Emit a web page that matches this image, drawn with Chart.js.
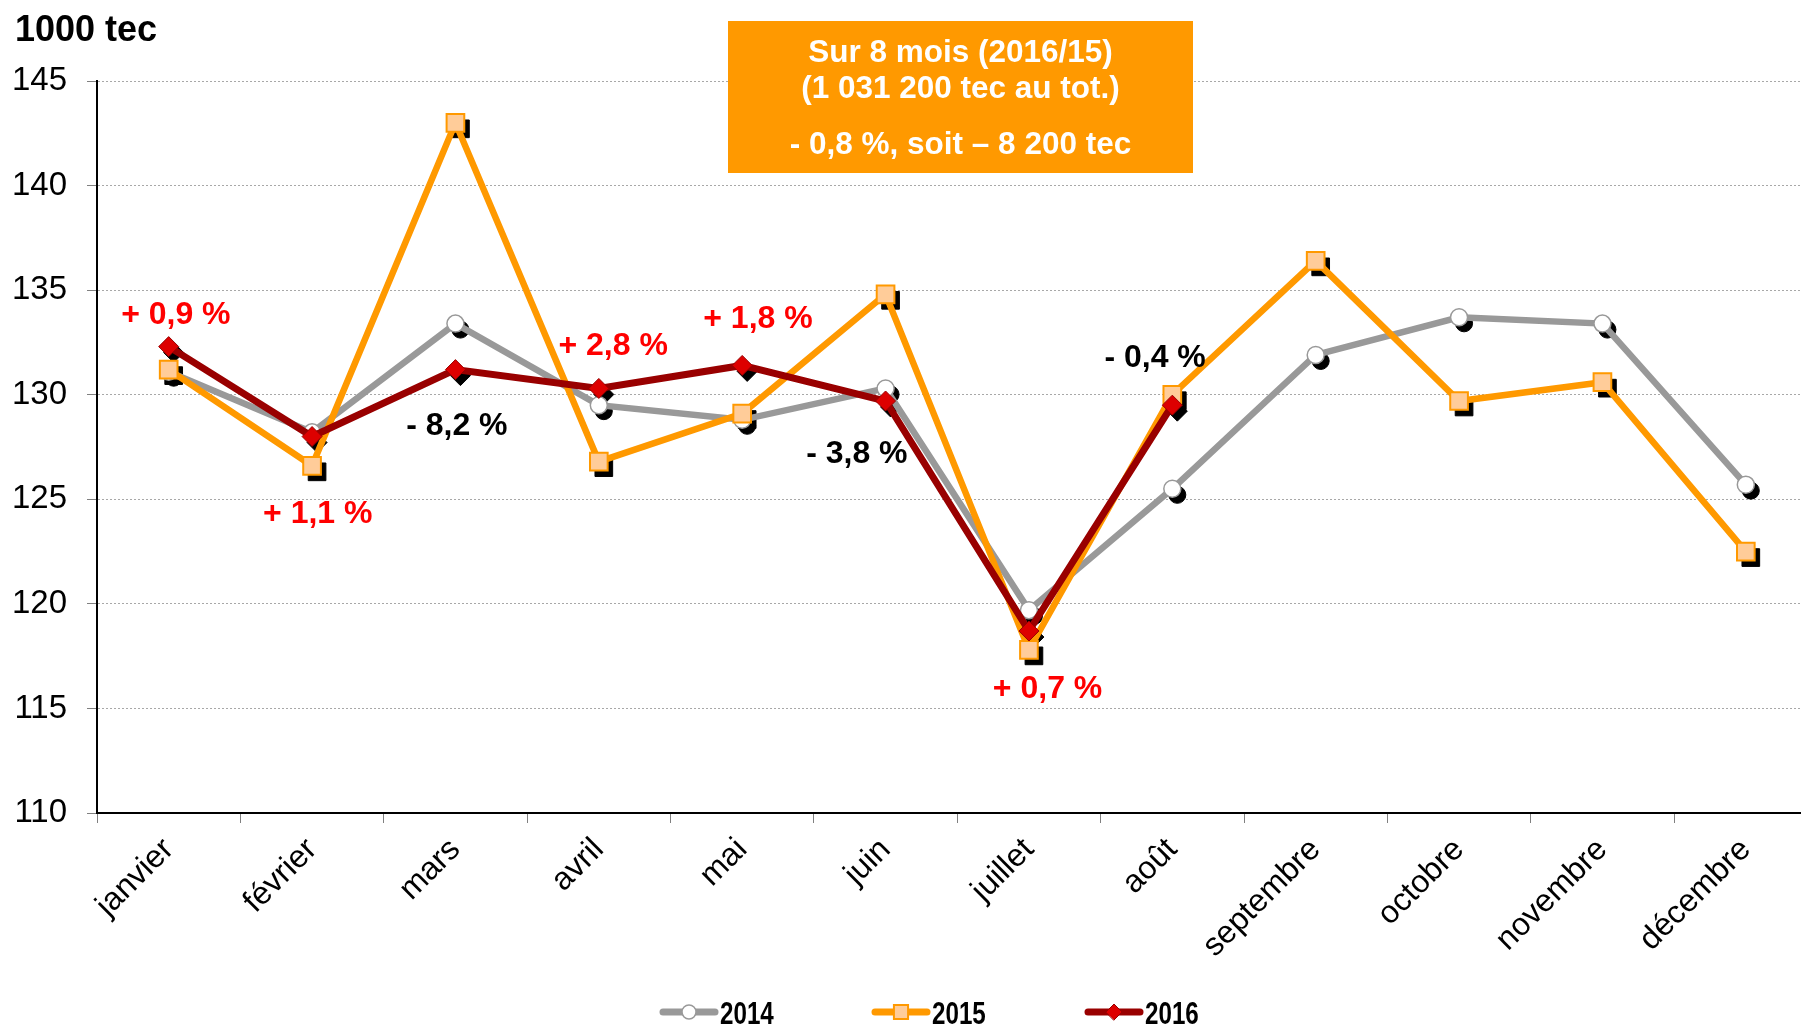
<!DOCTYPE html>
<html>
<head>
<meta charset="utf-8">
<script src="https://cdn.jsdelivr.net/npm/chart.js@4/dist/chart.umd.min.js"></script>
<style>
  html, body { margin: 0; padding: 0; background: #fff; overflow: hidden; }
</style>
</head>
<body>
<canvas id="myChart" width="1832" height="1025"></canvas>
<script>
const months = ["janvier", "février", "mars", "avril", "mai", "juin", "juillet", "août", "septembre", "octobre", "novembre", "décembre"];
const values2014 = [131.1, 128.2, 133.4, 129.5, 128.8, 130.3, 119.7, 125.5, 131.9, 133.7, 133.4, 125.7];
const values2015 = [131.2, 126.6, 143.0, 126.8, 129.1, 134.8, 117.8, 130.0, 136.4, 129.7, 130.6, 122.5];
const values2016 = [132.3, 128.0, 131.2, 130.3, 131.4, 129.7, 118.7, 129.5];
const yTicks = [110, 115, 120, 125, 130, 135, 140, 145];

// percent change notes (2016 vs 2015), placed in data units
const noteText = ["+ 0,9 %", "+ 1,1 %", "- 8,2 %", "+ 2,8 %", "+ 1,8 %", "- 3,8 %", "+ 0,7 %", "- 0,4 %"];
const noteMonth = [0.05, 1.04, 2.01, 3.1, 4.11, 4.8, 6.13, 6.88];
const noteValue = [133.8, 124.3, 128.5, 132.3, 133.6, 127.15, 115.9, 131.75];
const noteColor = ["#ff0000", "#ff0000", "#000000", "#ff0000", "#ff0000", "#000000", "#ff0000", "#000000"];

const boxLines = ["Sur 8 mois (2016/15)", "(1 031 200 tec au tot.)", "- 0,8 %, soit – 8 200 tec"];
const unitTitle = "1000 tec";

const FONT = "'Liberation Sans', Arial, sans-serif";

// black drop shadow under every marker
const markerShadows = {
  id: "markerShadows",
  beforeDatasetsDraw(chart) {
    const ctx = chart.ctx;
    ctx.save();
    ctx.fillStyle = "#000";
    ctx.strokeStyle = "#000";
    chart.getSortedVisibleDatasetMetas().forEach(meta => {
      meta.data.forEach(pt => {
        const o = pt.options;
        Chart.helpers.drawPoint(ctx, {
          pointStyle: o.pointStyle, radius: o.radius, rotation: o.rotation, borderWidth: o.borderWidth
        }, pt.x + 5, pt.y + 6);
      });
    });
    ctx.restore();
  }
};

const extras = {
  id: "extras",
  afterDraw(chart) {
    const ctx = chart.ctx;
    const xs = chart.scales.x, ys = chart.scales.y;
    ctx.save();

    // unit title
    ctx.fillStyle = "#000";
    ctx.font = "bold 36px " + FONT;
    ctx.textAlign = "left";
    ctx.textBaseline = "middle";
    ctx.fillText(unitTitle, 15, 31);

    // summary box
    ctx.fillStyle = "#ff9900";
    ctx.fillRect(728, 21, 465, 152);
    ctx.fillStyle = "#fff";
    ctx.font = "bold 31.5px " + FONT;
    ctx.textAlign = "center";
    const boxY = [53, 89, 145];
    boxLines.forEach((t, i) => ctx.fillText(t, 960.5, boxY[i]));

    // notes
    ctx.font = "bold 32px " + FONT;
    noteText.forEach((t, i) => {
      ctx.fillStyle = noteColor[i];
      ctx.fillText(t, xs.getPixelForValue(noteMonth[i]), ys.getPixelForValue(noteValue[i]));
    });

    // legend
    const legX = [660, 872, 1085];
    const legY = 1012;
    const legMarkR = [7, 10, 8];
    chart.data.datasets.forEach((ds, i) => {
      const x0 = legX[i];
      ctx.strokeStyle = ds.borderColor;
      ctx.lineWidth = 7;
      ctx.lineCap = "round";
      ctx.beginPath();
      ctx.moveTo(x0 + 3, legY);
      ctx.lineTo(x0 + 55, legY);
      ctx.stroke();
      ctx.fillStyle = ds.pointBackgroundColor;
      ctx.strokeStyle = ds.pointBorderColor;
      ctx.lineWidth = ds.pointBorderWidth;
      Chart.helpers.drawPoint(ctx, { pointStyle: ds.pointStyle, radius: legMarkR[i], rotation: 0, borderWidth: ds.pointBorderWidth }, x0 + 29, legY);
      // narrow bold text
      ctx.save();
      ctx.translate(x0 + 60, legY + 3);
      ctx.scale(0.78, 1);
      ctx.fillStyle = "#000";
      ctx.font = "bold 31px " + FONT;
      ctx.textAlign = "left";
      ctx.textBaseline = "middle";
      ctx.fillText(ds.label, 0, 0);
      ctx.restore();
    });
    ctx.restore();
  }
};

const ctx = document.getElementById("myChart");

new Chart(ctx, {
  type: "line",
  data: {
    labels: months,
    datasets: [
      {
        label: "2014",
        data: values2014,
        borderColor: "#999999",
        borderWidth: 6.5,
        pointStyle: "circle",
        pointRadius: 8.5,
        pointBackgroundColor: "#ffffff",
        pointBorderColor: "#999999",
        pointBorderWidth: 1.5,
        order: 3,
      },
      {
        label: "2015",
        data: values2015,
        borderColor: "#ff9900",
        borderWidth: 6.5,
        pointStyle: "rect",
        pointRadius: 12.5,
        pointBackgroundColor: "#ffcc99",
        pointBorderColor: "#ff9900",
        pointBorderWidth: 2,
        order: 2,
      },
      {
        label: "2016",
        data: values2016,
        borderColor: "#990000",
        borderWidth: 7,
        pointStyle: "rectRot",
        pointRadius: 10,
        pointBackgroundColor: "#dd0000",
        pointBorderColor: "#990000",
        pointBorderWidth: 1,
        order: 1,
      },
    ],
  },
  options: {
    responsive: false,
    animation: false,
    tension: 0,
    layout: { padding: { top: 81, right: 2, left: 0, bottom: 0 } },
    plugins: {
      legend: { display: false },
      tooltip: { enabled: false },
    },
    scales: {
      x: {
        offset: true,
        grid: { offset: true, drawOnChartArea: false, drawTicks: true, tickLength: 10, color: "#808080" },
        border: { color: "#000", width: 2 },
        ticks: {
          minRotation: 45,
          maxRotation: 45,
          padding: 8,
          color: "#000",
          font: { family: FONT, size: 32 },
        },
        afterFit: s => { s.height = 212; },
      },
      y: {
        min: 110,
        max: 145,
        afterBuildTicks: s => { s.ticks = yTicks.map(v => ({ value: v })); },
        grid: { color: "#a8a8a8", lineWidth: 1, tickLength: 10, tickColor: "#808080" },
        border: { color: "#000", width: 2, dash: [2, 2] },
        ticks: {
          padding: 20,
          color: "#000",
          font: { family: FONT, size: 33 },
        },
        afterFit: s => { s.width = 97; },
      },
    },
  },
  plugins: [markerShadows, extras],
});
</script>
</body>
</html>
